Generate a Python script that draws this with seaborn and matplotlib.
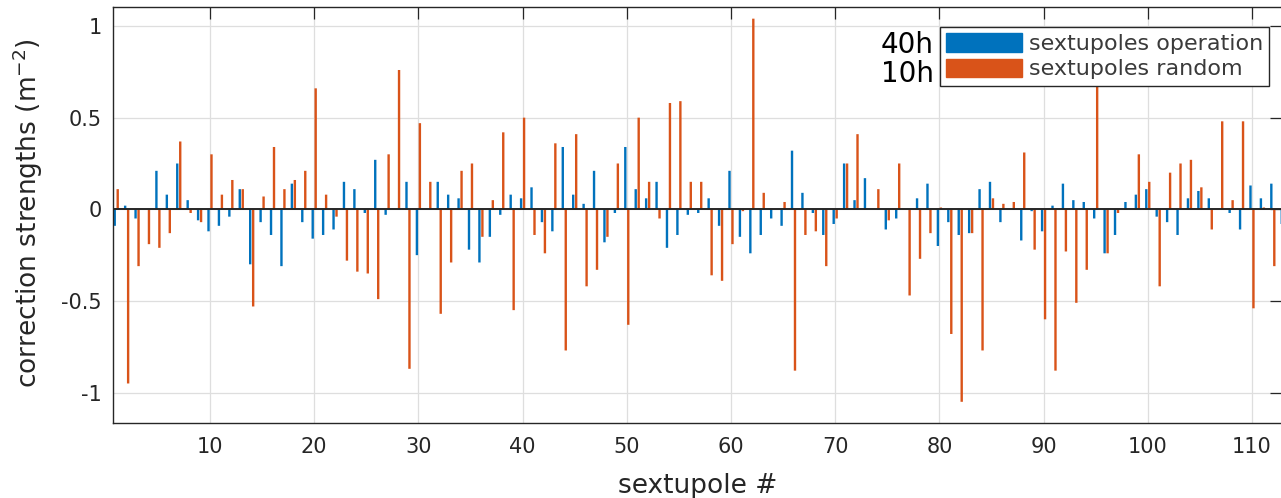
import numpy as np
import pandas as pd
import matplotlib
matplotlib.use("Agg")
import matplotlib.pyplot as plt
from matplotlib.patches import Patch
import seaborn as sns

# ---------------- data ----------------
sextupole = list(range(1, 114))

operation = [
    -0.09, 0.02, -0.05, 0.00, 0.21, 0.08, 0.25, 0.05, -0.06, -0.12,
    -0.09, -0.04, 0.11, -0.30, -0.07, -0.14, -0.31, 0.14, -0.07, -0.16,
    -0.14, -0.11, 0.15, 0.11, -0.02, 0.27, -0.03, 0.00, 0.15, -0.25,
    0.00, 0.15, 0.08, 0.06, -0.22, -0.29, -0.15, -0.03, 0.08, 0.06,
    0.12, -0.07, -0.12, 0.34, 0.08, 0.03, 0.21, -0.18, -0.02, 0.34,
    0.11, 0.06, 0.15, -0.21, -0.14, -0.03, -0.02, 0.06, -0.09, 0.21,
    -0.15, -0.24, -0.14, -0.05, -0.09, 0.32, 0.09, -0.02, -0.14, -0.08,
    0.25, 0.05, 0.17, 0.00, -0.11, -0.05, 0.00, 0.06, 0.14, -0.20,
    -0.07, -0.14, -0.13, 0.11, 0.15, -0.07, 0.00, -0.17, -0.01, -0.12,
    0.02, 0.14, 0.05, 0.04, -0.05, -0.24, -0.14, 0.04, 0.08, 0.11,
    -0.04, -0.07, -0.14, 0.06, 0.10, 0.06, 0.00, -0.02, -0.11, 0.13,
    0.06, 0.14, -0.08,
]

random_ = [
    0.11, -0.95, -0.31, -0.19, -0.21, -0.13, 0.37, -0.02, -0.07, 0.30,
    0.08, 0.16, 0.11, -0.53, 0.07, 0.34, 0.11, 0.16, 0.21, 0.66,
    0.08, -0.04, -0.28, -0.34, -0.35, -0.49, 0.30, 0.76, -0.87, 0.47,
    0.15, -0.57, -0.29, 0.21, 0.25, -0.15, 0.05, 0.42, -0.55, 0.50,
    -0.14, -0.24, 0.36, -0.77, 0.41, -0.42, -0.33, -0.15, 0.25, -0.63,
    0.50, 0.15, -0.05, 0.58, 0.59, 0.15, 0.15, -0.36, -0.39, -0.19,
    -0.01, 1.04, 0.09, 0.00, 0.04, -0.88, -0.14, -0.12, -0.31, -0.05,
    0.25, 0.41, 0.00, 0.11, -0.06, 0.25, -0.47, -0.27, -0.13, 0.01,
    -0.68, -1.05, -0.13, -0.77, 0.06, 0.03, 0.04, 0.31, -0.22, -0.60,
    -0.88, -0.23, -0.51, -0.33, 0.70, -0.24, -0.02, 0.00, 0.30, 0.15,
    -0.42, 0.20, 0.25, 0.27, 0.12, -0.11, 0.48, 0.05, 0.48, -0.54,
    0.01, -0.31, 0.00,
]

series_labels = ["sextupoles operation", "sextupoles random"]
side_labels = ["40h", "10h"]
x_ticks = list(range(10, 111, 10))
y_ticks = [-1, -0.5, 0, 0.5, 1]
y_tick_labels = ["-1", "-0.5", "0", "0.5", "1"]

colors = ["#0072BD", "#D95319"]
ink = "#262626"

# ---------------- figure ----------------
sns.set_style("white")
plt.rcParams["font.family"] = ["DejaVu Sans"]

W, H = 1281, 498
fig = plt.figure(figsize=(W / 100, H / 100), dpi=100)
ax_left, ax_right, ax_top, ax_bottom = 112.7, 1282.5, 7.3, 422.7
ax = fig.add_axes([ax_left / W, 1 - ax_bottom / H,
                   (ax_right - ax_left) / W, (ax_bottom - ax_top) / H])

df = pd.DataFrame({
    "sextupole": sextupole + sextupole,
    "strength": operation + random_,
    "series": [series_labels[0]] * len(sextupole) + [series_labels[1]] * len(sextupole),
})

sns.barplot(data=df, x="sextupole", y="strength", hue="series",
            hue_order=series_labels, palette=colors, native_scale=True,
            width=0.571, gap=0.2, errorbar=None, saturation=1,
            linewidth=0, legend=False, ax=ax, zorder=2)
for p in ax.patches:
    p.set_snap(False)

ax.axhline(0, color=ink, lw=1.4, zorder=4)

ax.set_xlim(0.662, 112.93)
ax.set_ylim(-1.164, 1.102)
ax.set_xticks(x_ticks)
ax.set_xticklabels([str(t) for t in x_ticks])
ax.set_yticks(y_ticks)
ax.set_yticklabels(y_tick_labels)

ax.grid(True, color="#dedede", lw=0.9)
ax.set_axisbelow(True)

ax.tick_params(direction="in", length=8.5, width=0.9, top=True, right=True,
               labelsize=15, colors=ink)
ax.tick_params(axis="x", pad=10)
ax.tick_params(axis="y", pad=8)
for s in ax.spines.values():
    s.set_color(ink)
    s.set_linewidth(1.0)

ax.set_xlabel("sextupole #", fontsize=19, color=ink)
ax.set_ylabel("correction strengths (m$^{-2}$)", fontsize=19, color=ink)
ax.xaxis.set_label_coords(0.5, -0.120)
ax.yaxis.set_label_coords(-0.058, 0.504)

handles = [Patch(facecolor=c, edgecolor=c) for c in colors]
leg = ax.legend(handles, series_labels, loc="upper right",
                bbox_to_anchor=(1269 / W, 1 - 27 / H),
                bbox_transform=fig.transFigure, fontsize=16, frameon=True,
                fancybox=False, framealpha=1, edgecolor=ink, facecolor="white",
                borderaxespad=0, handlelength=3.4, handleheight=0.9,
                handletextpad=0.3, labelspacing=0.2, borderpad=0.28)
leg.get_frame().set_linewidth(1.0)
for t in leg.get_texts():
    t.set_color("#3a3a3a")

fig.text(933.5 / W, 1 - 53.3 / H, side_labels[0], ha="right", va="baseline",
         fontsize=20, color="black")
fig.text(933.5 / W, 1 - 81.7 / H, side_labels[1], ha="right", va="baseline",
         fontsize=20, color="black")

fig.savefig("out.png", dpi=100)
